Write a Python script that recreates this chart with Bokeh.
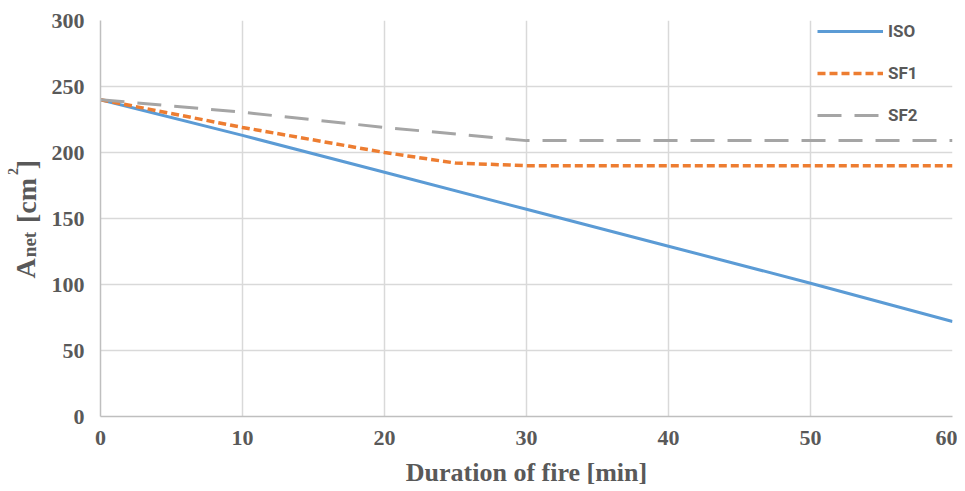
import math
from bokeh.plotting import figure
from bokeh.layouts import row
from bokeh.models import Legend, LegendItem, Range1d, FixedTicker
from bokeh.core.properties import value
from bokeh.embed import file_html
from bokeh.resources import INLINE

# data
time_min = [0, 10, 20, 30, 40, 50, 60]
iso = [240, 213, 185, 157, 129, 101, 72]
sf1_time = [0, 10, 20, 25, 30, 40, 50, 60]
sf1 = [240, 219, 200, 192, 190, 190, 190, 190]
sf2 = [240, 230.5, 219, 209, 209, 209, 209]
x_ticks = [0, 10, 20, 30, 40, 50, 60]
y_ticks = [0, 50, 100, 150, 200, 250, 300]

TICK_FONT = "Liberation Serif"
GRAY = "#595959"
H = 490
LW = 48
FRAME_H = 396

# ---- narrow panel holding the rotated y-axis title  A_net [cm^2] ----
# (its frame is aligned with the main chart's frame; y in pixels above the frame bottom)
lab = figure(width=LW, height=H, output_backend="svg", toolbar_location=None,
             x_range=Range1d(0, LW), y_range=Range1d(0, FRAME_H),
             x_axis_location=None, y_axis_location=None,
             min_border=0, min_border_left=0, min_border_right=0,
             min_border_top=0, min_border_bottom=0)
lab.grid.visible = False
lab.outline_line_color = None
ang = math.pi / 2
base = dict(angle=ang, text_font=value(TICK_FONT), text_font_style="bold",
            text_color=GRAY, text_align="center", text_baseline="middle")
lab.text(x=[25], y=[148], text=["A"], text_font_size="28px", **base)
lab.text(x=[29], y=[172], text=["net"], text_font_size="19px", **base)
lab.text(x=[25.5], y=[216], text=["[cm"], text_font_size="28px", **base)
lab.text(x=[12], y=[245], text=["2"], text_font_size="14px", **base)
lab.text(x=[25.5], y=[252], text=["]"], text_font_size="28px", **base)

# ---- main chart ----
p = figure(width=957 - LW, height=H, output_backend="svg", toolbar_location=None,
           x_range=Range1d(0, 60), y_range=Range1d(0, 300),
           min_border_left=95 - LW, min_border_right=5, min_border_top=20, min_border_bottom=H - 416)
p.outline_line_color = None
p.background_fill_color = "white"

r_iso = p.line(time_min, iso, line_color="#5b9bd5", line_width=3)
r_sf1 = p.line(sf1_time, sf1, line_color="#ed7d31", line_width=3.5, line_dash="8 4")
r_sf2 = p.line(time_min, sf2, line_color="#a5a5a5", line_width=3, line_dash="24 13")

for ax in (p.xaxis[0], p.yaxis[0]):
    ax.major_label_text_font = TICK_FONT
    ax.major_label_text_font_style = "bold"
    ax.major_label_text_font_size = "22px"
    ax.major_label_text_color = GRAY
    ax.major_tick_line_color = None
    ax.minor_tick_line_color = None
    ax.axis_line_color = "#bfbfbf"
    ax.axis_line_width = 1.5

p.xaxis.ticker = FixedTicker(ticks=x_ticks)
p.yaxis.ticker = FixedTicker(ticks=y_ticks)
p.xaxis.major_label_standoff = 8
p.yaxis.major_label_standoff = 10

p.xaxis.axis_label = "Duration of fire [min]"
p.xaxis.axis_label_text_font = TICK_FONT
p.xaxis.axis_label_text_font_style = "bold"
p.xaxis.axis_label_text_font_size = "26px"
p.xaxis.axis_label_text_color = GRAY
p.xaxis.axis_label_standoff = 10

p.xgrid.ticker = FixedTicker(ticks=x_ticks)
p.ygrid.ticker = FixedTicker(ticks=y_ticks)
p.xgrid.grid_line_color = "#d9d9d9"
p.ygrid.grid_line_color = "#d9d9d9"
p.xgrid.grid_line_width = 1.5
p.ygrid.grid_line_width = 1.5

legend = Legend(items=[LegendItem(label="ISO", renderers=[r_iso]),
                       LegendItem(label="SF1", renderers=[r_sf1]),
                       LegendItem(label="SF2", renderers=[r_sf2])],
                location=(717, 291), orientation="vertical")
legend.background_fill_alpha = 0
legend.border_line_color = None
legend.padding = 0
legend.margin = 0
legend.spacing = 22
legend.glyph_width = 66
legend.glyph_height = 20
legend.label_height = 20
legend.label_standoff = 5
legend.label_text_font = "Roboto"
legend.label_text_font_style = "bold"
legend.label_text_font_size = "17px"
legend.label_text_color = GRAY
p.add_layout(legend)

layout = row(lab, p, spacing=0)
open("out.html", "w").write(file_html(layout, INLINE))
